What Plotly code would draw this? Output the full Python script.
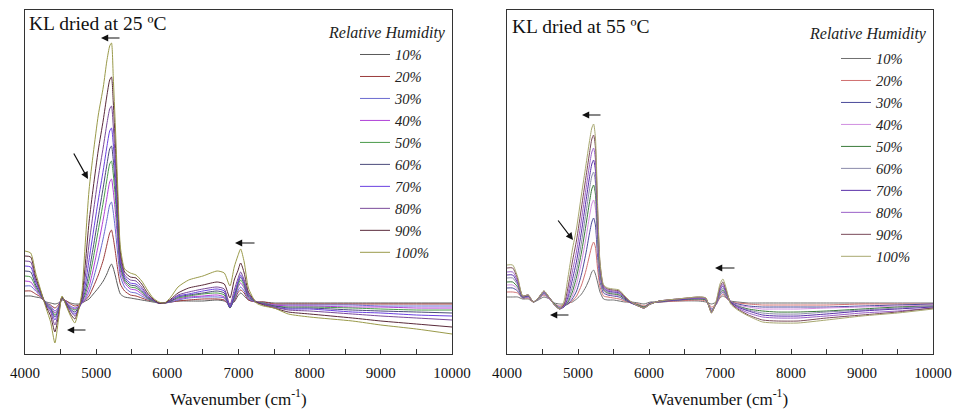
import plotly.graph_objects as go

# ---------------- data (absorbance, arbitrary units, baseline = 0) ----------------
RH_LABELS = ["10%", "20%", "30%", "40%", "50%", "60%", "70%", "80%", "90%", "100%"]

# KL dried at 25 ºC
X25 = [4000, 4080, 4150, 4220, 4300, 4360, 4420, 4470, 4520, 4580, 4640, 4700, 4760, 4800, 4850,
       4900, 4960, 5030, 5100, 5150, 5190, 5215, 5240, 5270, 5300, 5340, 5400, 5480, 5560, 5640,
       5720, 5800, 5880, 5960, 6050, 6150, 6300, 6500, 6700, 6800, 6880, 6940, 6990, 7030, 7080,
       7140, 7250, 7350, 7500, 7700, 8000, 8600, 9000, 9500, 10000]
L10 = [6, 6, 5, 4, 0, -1, -2, -1, 2, 1, -1, -2, -2, -1, 1, 3, 8, 14, 21, 28, 35, 38, 34, 26, 17, 8, 5, 4, 3, 2, 1, 0, -1, -1, 0, 1, 1, 1, 2, 1, -2, 0, 6, 9, 6, 2, 0, 0, -1, -1, -1, -1, -1, -1, -1]
L20 = [11, 11, 8, 5, -1, -3, -6, -3, 3, 1, -2, -4, -3, -1, 2, 6, 15, 27, 42, 57, 69, 72, 64, 50, 34, 18, 11, 7, 6, 4, 2, 1, -1, -1, 0, 1, 2, 3, 3, 2, -4, 1, 9, 12, 9, 2, 0, 0, -2, -2, -2, -2, -2, -2, -2]
L30 = [16, 16, 11, 6, -1, -4, -9, -5, 3, 0, -4, -6, -4, -1, 3, 10, 23, 42, 64, 82, 97, 100, 90, 72, 50, 26, 15, 10, 9, 6, 3, 1, -1, -1, 0, 2, 4, 5, 5, 4, -5, 2, 11, 15, 11, 3, 0, -1, -3, -3, -3, -3, -4, -4, -4]
L40 = [21, 20, 13, 6, -2, -5, -11, -6, 4, 0, -5, -7, -4, -1, 5, 15, 33, 57, 83, 104, 120, 123, 111, 90, 63, 31, 19, 13, 12, 8, 4, 1, -1, -1, 1, 3, 5, 6, 7, 5, -6, 3, 14, 19, 14, 4, 0, -1, -3, -4, -4, -5, -5, -6, -6]
L50 = [26, 25, 15, 7, -2, -6, -13, -7, 4, -1, -6, -8, -5, 0, 8, 22, 44, 72, 100, 122, 138, 141, 128, 104, 72, 35, 21, 15, 14, 10, 4, 1, -1, -1, 1, 4, 6, 8, 9, 7, -6, 4, 16, 22, 16, 5, 0, -1, -4, -5, -5, -6, -7, -8, -8]
L60 = [31, 30, 17, 8, -3, -7, -15, -8, 4, -1, -7, -10, -5, 0, 12, 30, 55, 85, 115, 137, 153, 156, 142, 115, 80, 38, 23, 17, 16, 11, 5, 2, -1, -1, 1, 5, 7, 9, 11, 9, -6, 6, 18, 25, 18, 6, 0, -2, -4, -6, -6, -8, -9, -10, -11]
L70 = [36, 35, 20, 9, -3, -8, -18, -9, 5, -2, -8, -12, -6, 1, 18, 42, 70, 102, 132, 155, 171, 174, 158, 127, 88, 42, 25, 19, 18, 13, 6, 2, -1, -1, 2, 6, 8, 11, 13, 11, -5, 8, 20, 27, 20, 7, 0, -2, -5, -7, -7, -10, -11, -13, -14]
L80 = [41, 40, 22, 10, -4, -10, -23, -11, 5, -2, -9, -14, -6, 2, 27, 58, 90, 125, 155, 178, 193, 196, 176, 140, 96, 45, 27, 22, 21, 15, 7, 2, -1, -1, 2, 7, 10, 13, 15, 13, -3, 12, 23, 30, 22, 8, 0, -2, -5, -8, -9, -12, -14, -16, -18]
L90 = [46, 45, 25, 11, -5, -14, -30, -14, 5, -3, -12, -17, -5, 5, 40, 80, 115, 152, 182, 206, 222, 225, 200, 158, 108, 50, 30, 25, 24, 18, 9, 3, -1, -1, 3, 9, 14, 17, 20, 18, 4, 22, 31, 39, 29, 10, 0, -3, -6, -10, -12, -16, -19, -22, -25]
L100 = [51, 49, 29, 12, -7, -20, -41, -18, 6, -4, -14, -21, -6, 10, 62, 112, 149, 187, 215, 241, 256, 259, 225, 175, 120, 55, 33, 29, 27, 21, 12, 4, 0, -1, 5, 15, 22, 26, 31, 29, 16, 35, 46, 53, 40, 14, -1, -4, -6, -12, -15, -19, -23, -27, -32]

# KL dried at 55 ºC
X55 = [4000, 4080, 4150, 4220, 4300, 4370, 4440, 4520, 4600, 4670, 4740, 4800, 4860, 4920, 4980,
       5050, 5110, 5160, 5195, 5220, 5245, 5275, 5310, 5360, 5420, 5500, 5580, 5660, 5750, 5850,
       5930, 6020, 6150, 6400, 6700, 6800, 6880, 6950, 7000, 7040, 7090, 7150, 7250, 7400, 7600,
       7800, 8100, 8500, 9000, 9500, 10000]
R10 = [5, 5, 5, 3, 3, 0, 2, 5, 3, -1, -2, -2, -1, 0, 3, 8, 15, 23, 30, 32, 28, 20, 10, 3, 2, 2, 1, 0, 0, -1, -2, 0, 0, 1, 1, 0, -2, 0, 4, 6, 4, 1, 0, -1, -1, -1, -1, -1, -1, -1, -1]
R20 = [10, 10, 9, 4, 4, 0, 3, 7, 3, -2, -4, -3, -2, 1, 6, 17, 31, 46, 56, 60, 55, 34, 15, 6, 5, 4, 3, 1, -1, -2, -4, -1, 0, 1, 2, 1, -5, -2, 5, 8, 4, 0, -1, -2, -3, -3, -3, -3, -2, -2, -2]
R30 = [14, 14, 11, 4, 5, 0, 3, 8, 3, -2, -5, -4, -2, 3, 11, 28, 48, 68, 80, 84, 77, 47, 21, 9, 7, 6, 5, 2, -1, -3, -5, -1, 0, 2, 3, 2, -7, -2, 7, 10, 5, 0, -2, -4, -5, -5, -5, -5, -4, -3, -2]
R40 = [17, 17, 13, 5, 5, 0, 3, 8, 3, -2, -5, -4, -1, 6, 18, 40, 63, 85, 98, 102, 94, 58, 25, 11, 8, 7, 6, 3, -1, -3, -5, -2, 1, 2, 3, 2, -8, -2, 8, 11, 6, 0, -3, -5, -7, -7, -7, -6, -5, -4, -3]
R50 = [20, 20, 15, 5, 6, 0, 3, 9, 4, -2, -6, -5, 0, 10, 25, 50, 76, 99, 113, 117, 108, 66, 28, 12, 9, 8, 7, 3, -1, -3, -5, -2, 1, 2, 3, 2, -9, -1, 9, 12, 7, 0, -4, -7, -9, -10, -10, -9, -7, -5, -4]
R60 = [24, 24, 17, 5, 6, 0, 3, 9, 4, -3, -6, -5, 2, 15, 32, 60, 88, 112, 126, 130, 120, 73, 31, 13, 10, 9, 8, 4, -1, -4, -6, -2, 1, 2, 4, 3, -9, -1, 10, 14, 8, 0, -4, -8, -11, -12, -12, -10, -8, -6, -4]
R70 = [27, 27, 19, 5, 6, 0, 4, 10, 4, -3, -7, -5, 5, 22, 41, 71, 100, 124, 138, 142, 132, 80, 34, 14, 11, 10, 9, 4, -1, -4, -6, -2, 1, 2, 4, 3, -10, 0, 12, 16, 9, 0, -5, -9, -13, -14, -14, -12, -9, -7, -5]
R80 = [30, 30, 21, 6, 7, 0, 4, 10, 4, -3, -7, -4, 9, 30, 51, 83, 112, 136, 150, 154, 143, 87, 36, 15, 12, 11, 10, 5, 0, -4, -6, -2, 1, 3, 4, 3, -10, 0, 13, 18, 10, -1, -6, -11, -15, -16, -16, -14, -11, -9, -6]
R90 = [34, 34, 23, 6, 7, 0, 4, 11, 4, -3, -7, -3, 15, 40, 62, 95, 124, 148, 163, 167, 155, 94, 38, 16, 13, 12, 11, 5, 0, -4, -6, -2, 1, 3, 5, 4, -11, 1, 15, 20, 11, -1, -7, -13, -18, -19, -19, -16, -13, -10, -6]
R100 = [37, 37, 25, 6, 7, 0, 4, 11, 4, -3, -7, 0, 25, 52, 74, 108, 136, 160, 174, 178, 165, 100, 40, 17, 14, 13, 12, 6, 0, -4, -6, -2, 1, 3, 5, 4, -11, 2, 18, 23, 13, -2, -8, -14, -20, -21, -21, -18, -14, -11, -7]

TICKS = [4000, 5000, 6000, 7000, 8000, 9000, 10000]
TICK_TEXT = ["4000", "5000", "6000", "7000", "8000", "9000", "10000"]

# ---------------- styling / geometry ----------------
COLORS_25 = ["#5a5a5a", "#9b3b3b", "#6b6bd0", "#b040d8", "#4a9a4a",
             "#4a4a7a", "#6a40e0", "#7a4a9a", "#5a2a3a", "#9a9a4a"]
COLORS_55 = ["#707070", "#d07070", "#4a4a9a", "#d08ee0", "#3a7a3a",
             "#8a8aaa", "#5a30a8", "#9a60c8", "#7a4a5a", "#a8a870"]

FONT = "Liberation Serif"
FW, FH = 954, 410


def PX(x):  # window pixel -> paper x
    return x / FW


def PY(y):  # window pixel -> paper y
    return 1 - y / FH


fig = go.Figure()

series25 = [L10, L20, L30, L40, L50, L60, L70, L80, L90, L100]
series55 = [R10, R20, R30, R40, R50, R60, R70, R80, R90, R100]

for lab, ys, col in zip(RH_LABELS, series25, COLORS_25):
    fig.add_trace(go.Scatter(x=X25, y=ys, mode="lines", name=lab,
                             line=dict(color=col, width=1, shape="spline", smoothing=0.6),
                             xaxis="x", yaxis="y", legend="legend"))
for lab, ys, col in zip(RH_LABELS, series55, COLORS_55):
    fig.add_trace(go.Scatter(x=X55, y=ys, mode="lines", name=lab,
                             line=dict(color=col, width=1, shape="spline", smoothing=0.6),
                             xaxis="x2", yaxis="y2", legend="legend2"))

ydom = [PY(354), PY(10)]
yr = [-52, 292]


def xaxis(domain, anchor):
    return dict(domain=domain, anchor=anchor, range=[4000, 10000], automargin=False,
                tickmode="array", tickvals=TICKS, ticktext=TICK_TEXT,
                ticks="inside", ticklen=5, tickcolor="#333",
                minor=dict(ticks="inside", dtick=500, tick0=4000, ticklen=5, tickcolor="#333"),
                showline=True, linecolor="#333", linewidth=1.3, mirror=True,
                showgrid=False, zeroline=False,
                tickfont=dict(family=FONT, size=15, color="#111"),
                ticklabelstandoff=5,
                title=dict(text="Wavenumber (cm<sup>-1</sup>)", standoff=12,
                           font=dict(family=FONT, size=17, color="#111")))


def yaxis(anchor):
    return dict(domain=ydom, anchor=anchor, range=yr, automargin=False,
                showticklabels=False, ticks="",
                showline=True, linecolor="#333", linewidth=1.3, mirror=True,
                showgrid=False, zeroline=False)


legfont = dict(family=FONT, size=14.6, style="italic", color="#222")

annotations = [
    dict(text="KL dried at 25 ºC", x=PX(27), y=PY(23), xref="paper", yref="paper",
         xanchor="left", yanchor="middle", showarrow=False, font=dict(family=FONT, size=19.5, color="#111")),
    dict(text="KL dried at 55 ºC", x=PX(510), y=PY(26), xref="paper", yref="paper",
         xanchor="left", yanchor="middle", showarrow=False, font=dict(family=FONT, size=19.5, color="#111")),
    dict(text="Relative Humidity", x=PX(448), y=PY(33), xref="paper", yref="paper",
         xanchor="right", yanchor="middle", showarrow=False,
         font=dict(family=FONT, size=16, style="italic", color="#222")),
    dict(text="Relative Humidity", x=PX(929), y=PY(34), xref="paper", yref="paper",
         xanchor="right", yanchor="middle", showarrow=False,
         font=dict(family=FONT, size=16, style="italic", color="#222")),
]

# arrows: (head_x, head_y, tail_x, tail_y, panel) in data units
ARROWS = [
    (5068, 264, 5349, 264, 1), (4590, -28, 4871, -28, 1), (6951, 59, 7246, 59, 1), (4885, 123, 4674, 150, 1),
    (5056, 187, 5338, 187, 2), (4606, -13, 4887, -13, 2), (6930, 34, 7225, 34, 2), (4930, 62, 4704, 83, 2),
]
for hx, hy, tx, ty, p in ARROWS:
    xr = "x" if p == 1 else "x2"
    yrf = "y" if p == 1 else "y2"
    annotations.append(dict(x=hx, y=hy, ax=tx, ay=ty, xref=xr, yref=yrf, axref=xr, ayref=yrf,
                            text="", showarrow=True, arrowhead=2, arrowsize=1.2,
                            arrowwidth=1.2, arrowcolor="#111"))

fig.update_layout(
    template="none",
    width=FW, height=FH,
    margin=dict(l=0, r=0, t=0, b=0, autoexpand=False),
    paper_bgcolor="white", plot_bgcolor="white",
    xaxis=xaxis([PX(25), PX(452)], "y"),
    yaxis=yaxis("x"),
    xaxis2=xaxis([PX(507), PX(933)], "y2"),
    yaxis2=yaxis("x2"),
    legend=dict(x=PX(355), y=PY(38.5), xanchor="left", yanchor="top",
                bgcolor="rgba(0,0,0,0)", borderwidth=0, font=legfont, tracegroupgap=0),
    legend2=dict(x=PX(836), y=PY(42.5), xanchor="left", yanchor="top",
                 bgcolor="rgba(0,0,0,0)", borderwidth=0, font=legfont, tracegroupgap=0),
    annotations=annotations,
    showlegend=True,
)

# remove the default page margin so the 954x410 figure fills the window exactly
fig.write_html("out.html", config={"displayModeBar": False},
               post_script="document.body.style.margin='0';document.body.style.overflow='hidden';")
